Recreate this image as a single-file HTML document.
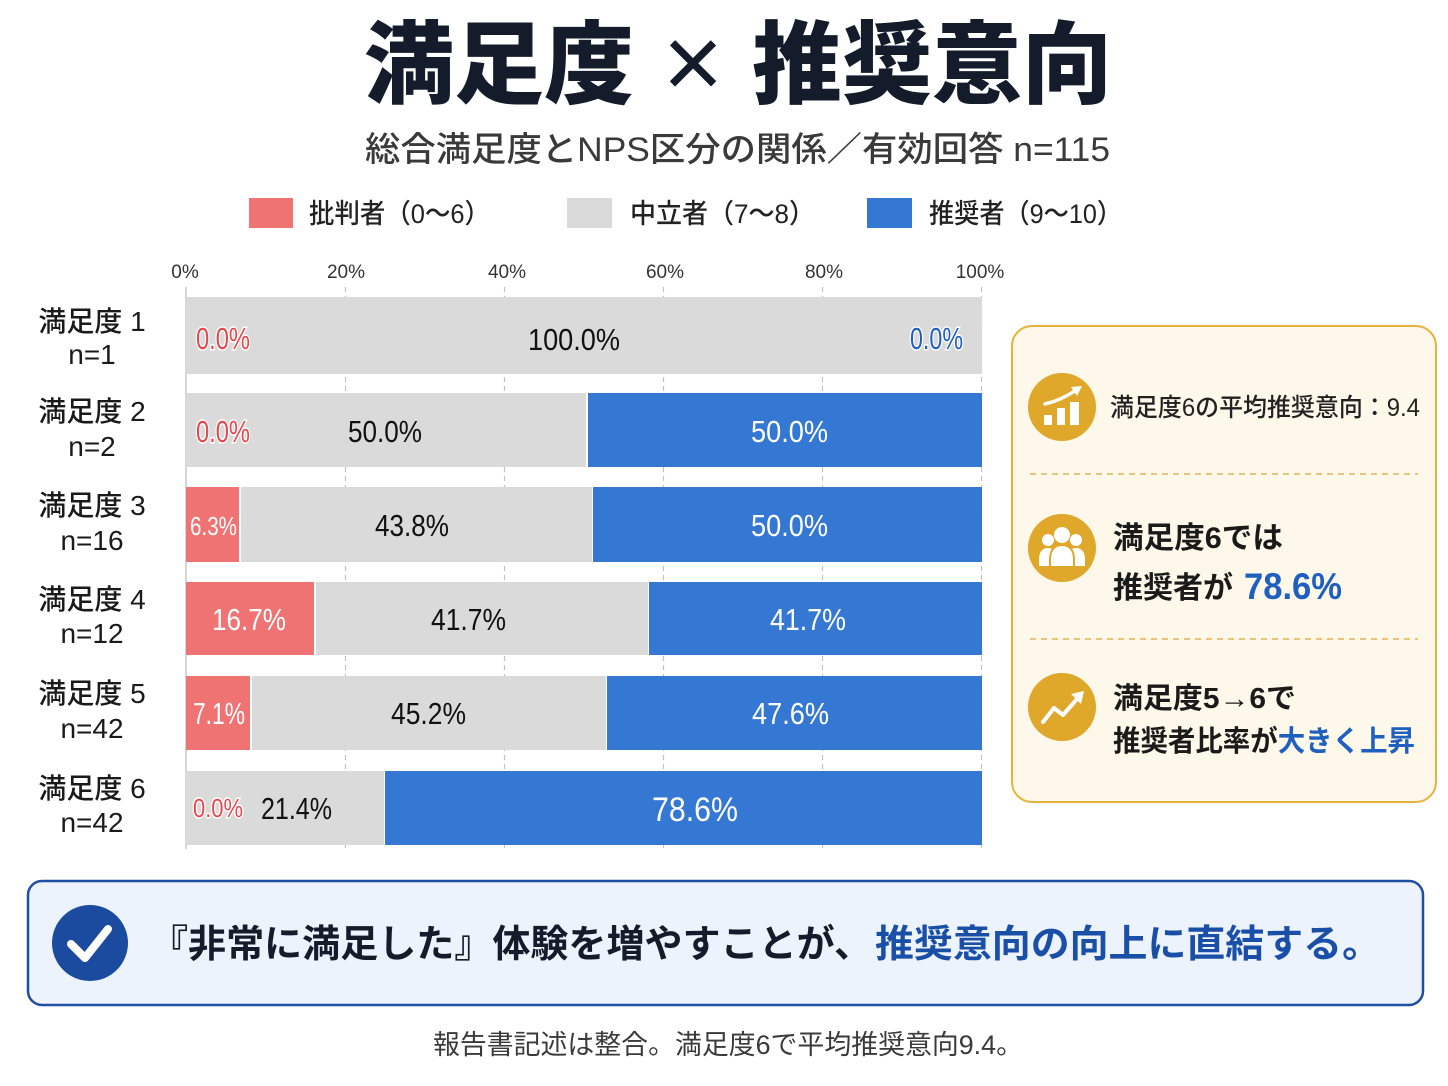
<!DOCTYPE html>
<html><head><meta charset="utf-8">
<style>
html,body{margin:0;padding:0;background:#ffffff;}
svg{display:block;}
.cjk{font-family:"Liberation Sans","Noto Sans CJK JP",sans-serif;}
.jp{font-family:"Noto Sans CJK JP","Liberation Sans",sans-serif;}
.lbl{font-family:"Liberation Sans","Noto Sans CJK JP",sans-serif;font-size:31px;}
</style></head>
<body>
<svg width="1448" height="1086" viewBox="0 0 1448 1086" xmlns="http://www.w3.org/2000/svg">
<rect width="1448" height="1086" fill="#ffffff"/>

<!-- Title -->
<text x="364" y="96" class="jp" font-size="90" font-weight="900" fill="#141c2b" textLength="270" lengthAdjust="spacingAndGlyphs">満足度</text>
<text x="693" y="98" font-family="Liberation Sans, sans-serif" font-size="104" font-weight="400" fill="#141c2b" text-anchor="middle">×</text>
<text x="752" y="96" class="jp" font-size="90" font-weight="900" fill="#141c2b" textLength="360" lengthAdjust="spacingAndGlyphs">推奨意向</text>

<!-- Subtitle -->
<text x="365" y="161" class="cjk" font-size="34" font-weight="500" fill="#3a3a3a" textLength="745" lengthAdjust="spacingAndGlyphs">総合満足度とNPS区分の関係／有効回答 n=115</text>

<!-- Legend -->
<rect x="249" y="198" width="44" height="30" fill="#ef7373"/>
<text x="309" y="223" class="cjk" font-size="27" font-weight="500" fill="#222" textLength="181" lengthAdjust="spacingAndGlyphs">批判者（0〜6）</text>
<rect x="567" y="198" width="45" height="30" fill="#dadada"/>
<text x="630" y="223" class="cjk" font-size="27" font-weight="500" fill="#222" textLength="185" lengthAdjust="spacingAndGlyphs">中立者（7〜8）</text>
<rect x="867" y="198" width="45" height="30" fill="#3478d4"/>
<text x="929" y="223" class="cjk" font-size="27" font-weight="500" fill="#222" textLength="193" lengthAdjust="spacingAndGlyphs">推奨者（9〜10）</text>

<!-- Axis labels -->
<g font-family="Liberation Sans, sans-serif" font-size="19" fill="#333" text-anchor="middle">
<text x="185" y="278">0%</text>
<text x="346" y="278">20%</text>
<text x="507" y="278">40%</text>
<text x="665" y="278">60%</text>
<text x="824" y="278">80%</text>
<text x="980" y="278">100%</text>
</g>

<!-- Grid -->
<g stroke="#c2c2c2" stroke-width="1.2" stroke-dasharray="5 4">
<line x1="345.5" y1="287" x2="345.5" y2="848"/>
<line x1="504.5" y1="287" x2="504.5" y2="848"/>
<line x1="663.5" y1="287" x2="663.5" y2="848"/>
<line x1="822.5" y1="287" x2="822.5" y2="848"/>
<line x1="981.5" y1="287" x2="981.5" y2="848"/>
</g>
<line x1="186" y1="287" x2="186" y2="849" stroke="#c8c8c8" stroke-width="1.5"/>

<!-- Bars -->
<rect x="186" y="297" width="796" height="77" fill="#dadada"/>
<rect x="186" y="393" width="400" height="74" fill="#dadada"/>
<rect x="588" y="393" width="394" height="74" fill="#3478d4"/>
<rect x="186" y="487" width="53" height="75" fill="#ef7373"/>
<rect x="241" y="487" width="351" height="75" fill="#dadada"/>
<rect x="593" y="487" width="389" height="75" fill="#3478d4"/>
<rect x="186" y="582" width="128" height="73" fill="#ef7373"/>
<rect x="316" y="582" width="332" height="73" fill="#dadada"/>
<rect x="649" y="582" width="333" height="73" fill="#3478d4"/>
<rect x="186" y="676" width="64" height="74" fill="#ef7373"/>
<rect x="252" y="676" width="354" height="74" fill="#dadada"/>
<rect x="607" y="676" width="375" height="74" fill="#3478d4"/>
<rect x="186" y="771" width="198" height="74" fill="#dadada"/>
<rect x="385" y="771" width="597" height="74" fill="#3478d4"/>

<!-- Bar labels -->
<g class="lbl" font-weight="500">
<text x="196" y="349" fill="#e5484d" stroke="#ffffff" stroke-width="3" paint-order="stroke" textLength="54" lengthAdjust="spacingAndGlyphs">0.0%</text>
<text x="528" y="350" fill="#111" textLength="92" lengthAdjust="spacingAndGlyphs">100.0%</text>
<text x="910" y="349" fill="#1f5fc0" stroke="#ffffff" stroke-width="3" paint-order="stroke" textLength="53" lengthAdjust="spacingAndGlyphs">0.0%</text>

<text x="196" y="442" fill="#e5484d" stroke="#ffffff" stroke-width="3" paint-order="stroke" textLength="54" lengthAdjust="spacingAndGlyphs">0.0%</text>
<text x="348" y="442" fill="#111" textLength="74" lengthAdjust="spacingAndGlyphs">50.0%</text>
<text x="751" y="442" fill="#ffffff" textLength="77" lengthAdjust="spacingAndGlyphs">50.0%</text>

<text x="190" y="535" fill="#ffffff" font-size="26" textLength="47" lengthAdjust="spacingAndGlyphs">6.3%</text>
<text x="375" y="536" fill="#111" textLength="74" lengthAdjust="spacingAndGlyphs">43.8%</text>
<text x="751" y="536" fill="#ffffff" textLength="77" lengthAdjust="spacingAndGlyphs">50.0%</text>

<text x="212" y="630" fill="#ffffff" textLength="74" lengthAdjust="spacingAndGlyphs">16.7%</text>
<text x="431" y="630" fill="#111" textLength="75" lengthAdjust="spacingAndGlyphs">41.7%</text>
<text x="770" y="630" fill="#ffffff" textLength="76" lengthAdjust="spacingAndGlyphs">41.7%</text>

<text x="193" y="724" fill="#ffffff" textLength="52" lengthAdjust="spacingAndGlyphs">7.1%</text>
<text x="391" y="724" fill="#111" textLength="75" lengthAdjust="spacingAndGlyphs">45.2%</text>
<text x="752" y="724" fill="#ffffff" textLength="77" lengthAdjust="spacingAndGlyphs">47.6%</text>

<text x="193" y="817" fill="#e5484d" font-size="26" stroke="#ffffff" stroke-width="3" paint-order="stroke" textLength="50" lengthAdjust="spacingAndGlyphs">0.0%</text>
<text x="261" y="819" fill="#111" textLength="71" lengthAdjust="spacingAndGlyphs">21.4%</text>
<text x="652" y="821" fill="#ffffff" font-size="34" textLength="86" lengthAdjust="spacingAndGlyphs">78.6%</text>
</g>

<!-- Row labels -->
<g class="cjk" font-size="28" font-weight="500" fill="#1a1a1a" text-anchor="middle">
<text x="92" y="331">満足度 1</text><text x="92" y="364">n=1</text>
<text x="92" y="421">満足度 2</text><text x="92" y="456">n=2</text>
<text x="92" y="515">満足度 3</text><text x="92" y="550">n=16</text>
<text x="92" y="609">満足度 4</text><text x="92" y="643">n=12</text>
<text x="92" y="703">満足度 5</text><text x="92" y="738">n=42</text>
<text x="92" y="798">満足度 6</text><text x="92" y="832">n=42</text>
</g>

<!-- Right panel -->
<rect x="1012" y="326" width="424" height="476" rx="20" ry="20" fill="#fdf8ea" stroke="#e6b43c" stroke-width="2"/>
<circle cx="1062" cy="407" r="34" fill="#dfa82a"/>
<circle cx="1062" cy="548" r="34" fill="#dfa82a"/>
<circle cx="1062" cy="707" r="34" fill="#dfa82a"/>
<g fill="#ffffff">
<rect x="1044" y="415" width="8" height="10"/>
<rect x="1057" y="408" width="8" height="17"/>
<rect x="1070" y="402" width="9" height="23"/>
</g>
<path d="M1045 404 Q1062 400 1076 390" stroke="#ffffff" stroke-width="3.5" fill="none" stroke-linecap="round"/>
<path d="M1082 386 L1071 387 L1077 396 Z" fill="#ffffff"/>
<g fill="#ffffff">
<circle cx="1062" cy="535" r="8"/>
<circle cx="1048" cy="540" r="6"/>
<circle cx="1076" cy="540" r="6"/>
<path d="M1039 566 L1039 558 Q1040 548 1048 548 Q1056 548 1057 558 L1057 566 Z"/>
<path d="M1067 566 L1067 558 Q1068 548 1076 548 Q1084 548 1085 558 L1085 566 Z"/>
<path d="M1050 567 L1050 558 Q1051 545 1062 545 Q1073 545 1074 558 L1074 567 Z" stroke="#dfa82a" stroke-width="2"/>
</g>
<polyline points="1043,722 1054,708 1063,715 1077,699" stroke="#ffffff" stroke-width="4" fill="none" stroke-linecap="round" stroke-linejoin="round"/>
<path d="M1084 691 L1071 694 L1081 704 Z" fill="#ffffff"/>

<text x="1110" y="416" class="cjk" font-size="25" font-weight="500" fill="#222" textLength="310" lengthAdjust="spacingAndGlyphs">満足度6の平均推奨意向：9.4</text>
<line x1="1030" y1="474" x2="1418" y2="474" stroke="#e2b257" stroke-width="1.5" stroke-dasharray="6 5"/>
<text x="1113" y="548" class="cjk" font-size="30" font-weight="700" fill="#1a1a1a" textLength="170" lengthAdjust="spacingAndGlyphs">満足度6では</text>
<text x="1113" y="598" class="cjk" font-size="30" font-weight="700" fill="#1a1a1a">推奨者が</text>
<text x="1244" y="599" font-family="Liberation Sans, sans-serif" font-size="37" font-weight="700" fill="#1f5fc0" textLength="98" lengthAdjust="spacingAndGlyphs">78.6%</text>
<line x1="1030" y1="639" x2="1418" y2="639" stroke="#e2b257" stroke-width="1.5" stroke-dasharray="6 5"/>
<text x="1113" y="708" class="cjk" font-size="29" font-weight="700" fill="#1a1a1a" textLength="183" lengthAdjust="spacingAndGlyphs">満足度5→6で</text>
<text x="1113" y="751" class="cjk" font-size="29" font-weight="700" fill="#1a1a1a" textLength="302" lengthAdjust="spacingAndGlyphs">推奨者比率が<tspan fill="#1f5fc0">大きく上昇</tspan></text>

<!-- Callout -->
<rect x="28" y="881" width="1395" height="124" rx="14" ry="14" fill="#edf3fc" stroke="#1f4ea3" stroke-width="2.5"/>
<circle cx="90" cy="943" r="38" fill="#1b4b9e"/>
<polyline points="71,944 85,958 108,929" stroke="#ffffff" stroke-width="8" fill="none" stroke-linecap="round" stroke-linejoin="round"/>
<text x="150" y="957" class="cjk" font-size="38" font-weight="700" fill="#141c2b" textLength="722" lengthAdjust="spacingAndGlyphs">『非常に満足した』体験を増やすことが、</text>
<text x="875" y="957" class="cjk" font-size="38" font-weight="700" fill="#1a4fa8" textLength="506" lengthAdjust="spacingAndGlyphs">推奨意向の向上に直結する。</text>

<!-- Footer -->
<text x="433" y="1054" class="cjk" font-size="27" font-weight="400" fill="#3a3a3a" textLength="590" lengthAdjust="spacingAndGlyphs">報告書記述は整合。満足度6で平均推奨意向9.4。</text>
</svg>
</body></html>
